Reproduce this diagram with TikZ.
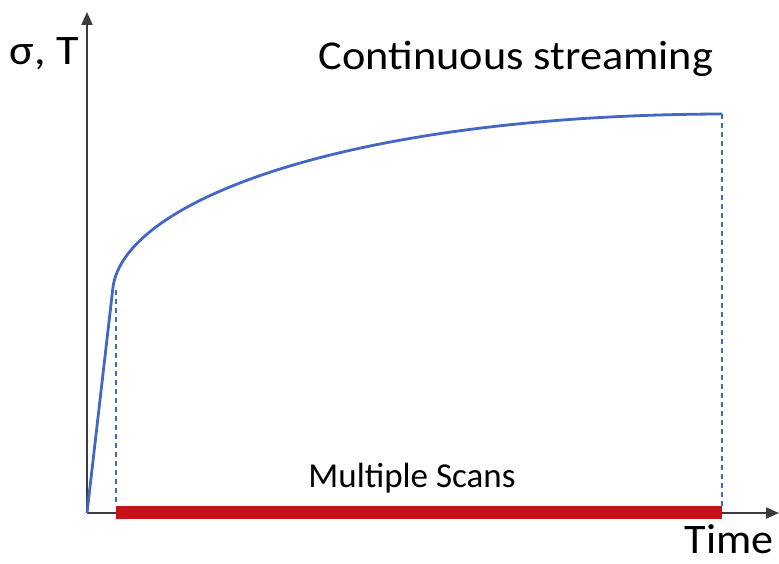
\documentclass[tikz,border=0pt]{standalone}
\usepackage{fontspec}
\setmainfont{Carlito}
\usetikzlibrary{arrows.meta}
\definecolor{curveblue}{RGB}{68,103,196}
\definecolor{barred}{RGB}{196,20,24}
\definecolor{axisgray}{RGB}{60,60,60}
\begin{document}
\begin{tikzpicture}[x=1pt,y=-1pt,
    axis/.style={axisgray, line width=2pt, -{Triangle[length=13pt,width=11pt]}},
    guide/.style={curveblue, line width=1.1pt, dash pattern=on 5pt off 4pt},
    lbl/.style={inner sep=0pt, anchor=base, transform shape}]
  \useasboundingbox (0,0) rectangle (779,564);
  % axes
  \coordinate (O) at (87,513);
  \coordinate (ytip) at (87,12);
  \coordinate (xtip) at (779,513);
  \draw[axis] (O) -- (ytip);
  \draw[axis] (O) -- (xtip);
  % curve
  \coordinate (knee) at (113,287);
  \coordinate (top) at (722,114);
  \coordinate (kneefoot) at (116,506);
  \coordinate (topfoot) at (722,506);
  \draw[guide] (116,290) -- (kneefoot);
  \draw[guide] (top) -- (topfoot);
  \draw[curveblue, line width=2.8pt, line join=round]
    (O) -- (knee) .. controls (125,200) and (350,115) .. (top);
  % scans bar
  \coordinate (barl) at (116,512);
  \coordinate (barr) at (722,512);
  \draw[barred, line width=13pt] (barl) -- (barr);
  % labels
  \node[lbl, xscale=1.1] (ylabel) at (44,65) {\fontsize{42}{48}\selectfont σ, T};
  \node[lbl, xscale=1.08] (title) at (516,70) {\fontsize{41}{48}\selectfont Continuous streaming};
  \node[lbl] (scans) at (412,487) {\fontsize{35}{40}\selectfont Multiple Scans};
  \node[lbl, xscale=1.05] (xlabel) at (729,553) {\fontsize{42}{48}\selectfont Time};
\end{tikzpicture}
\end{document}
